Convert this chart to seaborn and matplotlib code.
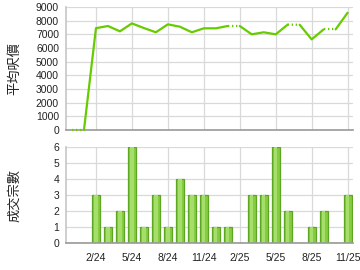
import matplotlib
matplotlib.use("Agg")
import matplotlib.pyplot as plt
import seaborn as sns
import pandas as pd
import numpy as np

months = ["12/23", "1/24", "2/24", "3/24", "4/24", "5/24", "6/24", "7/24", "8/24",
          "9/24", "10/24", "11/24", "12/24", "1/25", "2/25", "3/25", "4/25", "5/25",
          "6/25", "7/25", "8/25", "9/25", "10/25", "11/25"]
avg_price = [0, 0, 7450, 7610, 7220, 7800, 7460, 7150, 7730, 7560, 7150, 7440,
             7440, 7610, 7610, 7000, 7150, 7000, 7710, 7700, 6630, 7360, 7360, 8580]
deals = [0, 0, 3, 1, 2, 6, 1, 3, 1, 4, 3, 3, 1, 1, 0, 3, 3, 6, 2, 0, 1, 2, 0, 3]
tick_labels = ["2/24", "5/24", "8/24", "11/24", "2/25", "5/25", "8/25", "11/25"]
price_ticks = [0, 1000, 2000, 3000, 4000, 5000, 6000, 7000, 8000, 9000]
deal_ticks = [0, 1, 2, 3, 4, 5, 6]

sns.set_theme(style="white")
plt.rcParams["font.family"] = ["Liberation Sans", "Noto Sans CJK TC", "DejaVu Sans"]

LINE = "#66cc00"
GRID = "#d9d9d9"
SPINE = "#999999"

fig = plt.figure(figsize=(3.6, 2.7), dpi=100)
ax1 = fig.add_axes([66/360, 1-130/270, 287/360, 123/270])
ax2 = fig.add_axes([66/360, 1-243/270, 287/360, 96/270])

# build line segments (dotted into months with no deals)
rows = []
run = 0
prev_kind = None
for i in range(1, len(months)):
    kind = "dot" if deals[i] == 0 else "solid"
    if kind != prev_kind:
        run += 1
        prev_kind = kind
        rows.append({"x": i-1, "y": avg_price[i-1], "seg": run, "kind": kind})
    rows.append({"x": i, "y": avg_price[i], "seg": run, "kind": kind})
seg_df = pd.DataFrame(rows)

sns.lineplot(data=seg_df, x="x", y="y", units="seg", estimator=None, style="kind",
             dashes={"solid": "", "dot": (0.6, 1.2)}, color=LINE, linewidth=1.6,
             sort=False, legend=False, ax=ax1)
for ln in ax1.get_lines():
    ln.set_clip_on(False)
    ln.set_zorder(5)

bar_df = pd.DataFrame({"month": months, "deals": deals})
sns.barplot(data=bar_df, x="month", y="deals", order=months, color="#86cc40",
            edgecolor="#5da623", linewidth=0.9, width=0.68, saturation=1, ax=ax2)
sns.barplot(data=bar_df, x="month", y="deals", order=months, color="#a6de6c",
            linewidth=0, width=0.28, saturation=1, ax=ax2)

tick_pos = [months.index(m) for m in tick_labels]
for ax in (ax1, ax2):
    ax.set_xlim(-0.5, 23.45)
    ax.set_xticks(tick_pos)
    ax.grid(True, color=GRID, linewidth=0.9)
    ax.set_axisbelow(True)
    for s in ("top", "right"):
        ax.spines[s].set_visible(False)
    ax.spines["left"].set_color("#c8c8c8")
    ax.spines["bottom"].set_color(SPINE)
    ax.spines["bottom"].set_linewidth(1.2)
    ax.tick_params(axis="y", length=4, color=GRID, labelsize=7.5, pad=1, labelcolor="#222222")
    ax.set_xlabel("")

ax1.set_ylim(0, 9000)
ax1.set_yticks(price_ticks)
ax1.set_xticklabels([])
ax1.tick_params(axis="x", length=0)

ax2.set_ylim(0, 6)
ax2.set_yticks(deal_ticks)
ax2.set_xticklabels(tick_labels)
ax2.tick_params(axis="x", length=4, color=SPINE, labelsize=7.5, pad=3, labelcolor="#222222")

cjk = ["Noto Sans CJK TC", "DejaVu Sans"]
ax1.set_ylabel("平均呎價", fontsize=9.5, family=cjk, color="#222222")
ax2.set_ylabel("成交宗數", fontsize=9.5, family=cjk, color="#222222")
ax1.yaxis.set_label_coords(-0.155, 0.5)
ax2.yaxis.set_label_coords(-0.155, 0.5)

fig.savefig("out.png", dpi=100)
